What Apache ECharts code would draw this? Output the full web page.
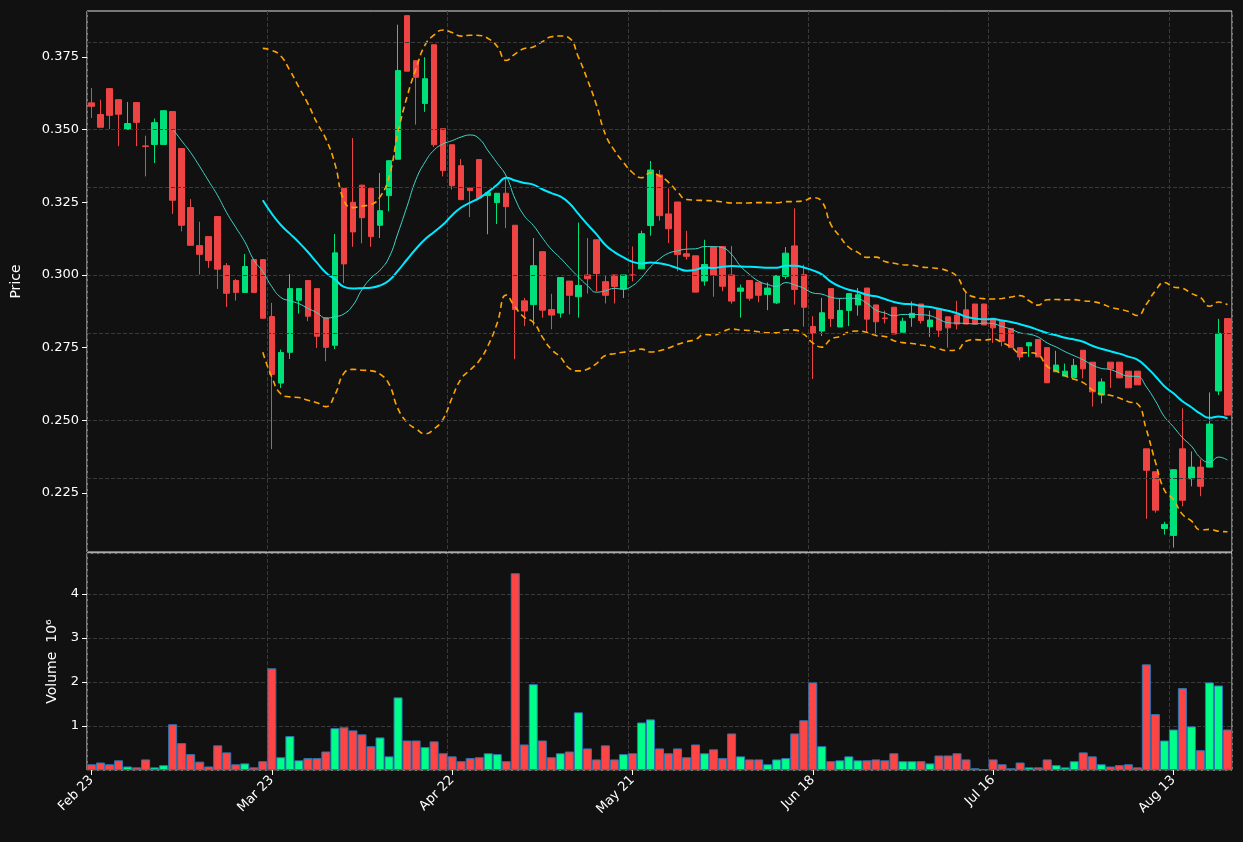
<!DOCTYPE html>
<html>
<head>
<meta charset="utf-8">
<script src="https://cdn.jsdelivr.net/npm/echarts@6/dist/echarts.min.js"></script>
<style>
  html, body { margin: 0; padding: 0; background: #111111; }
  #chart { width: 1243px; height: 842px; }
</style>
</head>
<body>
<div id="chart"></div>
<script>
// tick labels every 20 trading days
const tickLabels = ['Feb 23', 'Mar 23', 'Apr 22', 'May 21', 'Jun 18', 'Jul 16', 'Aug 13'];
const priceTicks = [0.225, 0.250, 0.275, 0.300, 0.325, 0.350, 0.375];

const opens = [.3592,.3552,.3641,.3603,.3501,.3593,.3444,.3449,.3449,.3562,.3435,.3232,.3101,.3132,.3201,.3032,.2981,.2940,.3053,.3053,
  .2857,.2628,.2734,.2913,.2981,.2953,.2852,.2758,.3298,.3250,.3309,.3298,.3171,.3273,.3398,.3892,.3737,.3590,.3792,.3503,
  .3448,.3376,.3299,.3397,.3273,.3249,.3281,.3171,.2911,.2898,.3080,.2881,.2869,.2979,.2925,.3000,.3121,.2977,.3000,.2952,
  .3000,.3021,.3170,.3344,.3210,.3251,.3073,.3066,.2979,.3096,.3098,.3000,.2944,.2981,.2975,.2933,.2904,.2995,.3100,.3001,
  .2823,.2807,.2953,.2821,.2878,.2897,.2955,.2897,.2852,.2889,.2803,.2853,.2900,.2822,.2882,.2856,.2862,.2880,.2900,.2900,
  .2851,.2841,.2816,.2750,.2756,.2778,.2750,.2667,.2652,.2646,.2741,.2700,.2587,.2700,.2700,.2669,.2669,.2402,.2323,.2128,
  .2104,.2402,.2299,.2339,.2339,.2601,.2850];
const closes = [.3580,.3508,.3549,.3553,.3521,.3525,.3442,.3524,.3565,.3257,.3171,.3102,.3071,.3050,.3020,.2937,.2940,.3029,.2940,.2851,
  .2658,.2733,.2953,.2953,.2858,.2789,.2751,.3076,.3038,.3148,.3197,.3132,.3221,.3393,.3703,.3701,.3680,.3675,.3448,.3359,
  .3307,.3259,.3290,.3264,.3283,.3281,.3235,.2881,.2876,.3032,.2879,.2862,.2991,.2930,.2964,.2987,.3005,.2930,.2960,.3000,
  .2999,.3142,.3361,.3204,.3159,.3070,.3064,.2941,.3036,.2999,.2961,.2910,.2955,.2920,.2930,.2955,.2998,.3075,.2950,.2889,
  .2799,.2870,.2850,.2878,.2936,.2932,.2848,.2839,.2850,.2797,.2841,.2868,.2843,.2845,.2810,.2818,.2831,.2831,.2831,.2828,
  .2818,.2772,.2750,.2718,.2767,.2718,.2629,.2690,.2669,.2689,.2677,.2598,.2632,.2677,.2646,.2612,.2622,.2328,.2191,.2142,
  .2330,.2225,.2339,.2273,.2487,.2799,.2518];
const lows = [.3540,.3508,.3502,.3443,.3501,.3443,.3339,.3385,.3449,.3210,.3150,.3102,.3001,.3024,.2952,.2890,.2912,.2940,.2940,.2851,
  .2401,.2611,.2711,.2867,.2841,.2749,.2703,.2745,.2972,.3097,.3109,.3097,.3127,.3219,.3398,.3701,.3517,.3561,.3440,.3339,
  .3294,.3259,.3199,.3264,.3140,.3175,.3161,.2710,.2824,.2826,.2853,.2813,.2853,.2864,.2853,.2936,.2944,.2902,.2902,.2921,
  .2978,.3021,.3135,.3187,.3110,.3013,.3053,.2941,.2963,.2925,.2944,.2901,.2853,.2911,.2906,.2879,.2900,.2986,.2898,.2822,
  .2642,.2790,.2821,.2821,.2824,.2860,.2804,.2793,.2833,.2797,.2803,.2822,.2833,.2787,.2787,.2750,.2813,.2831,.2831,.2828,
  .2766,.2755,.2750,.2706,.2718,.2718,.2629,.2667,.2652,.2646,.2644,.2547,.2558,.2612,.2646,.2612,.2622,.2161,.2182,.2107,
  .2062,.2204,.2273,.2239,.2339,.2587,.2518];
const highs = [.3643,.3603,.3641,.3603,.3595,.3593,.3479,.3538,.3565,.3562,.3435,.3261,.3183,.3132,.3201,.3041,.2986,.3072,.3053,.3053,
  .2904,.2743,.3003,.2953,.2981,.2953,.2852,.3141,.3298,.3471,.3309,.3298,.3351,.3393,.3861,.3892,.3737,.3749,.3792,.3503,
  .3448,.3399,.3299,.3397,.3283,.3281,.3338,.3171,.2921,.3127,.3080,.2935,.2991,.2979,.3180,.3127,.3121,.2999,.3000,.3000,
  .3098,.3152,.3392,.3361,.3298,.3251,.3152,.3066,.3121,.3096,.3098,.3100,.2967,.2981,.2975,.2974,.2998,.3096,.3229,.3035,
  .2858,.2921,.2953,.2918,.2936,.2955,.2955,.2897,.2877,.2889,.2853,.2909,.2900,.2877,.2882,.2856,.2911,.2938,.2900,.2900,
  .2851,.2841,.2816,.2750,.2767,.2778,.2750,.2739,.2695,.2712,.2741,.2700,.2644,.2700,.2700,.2669,.2669,.2402,.2323,.2151,
  .2330,.2541,.2393,.2366,.2596,.2849,.2850];
// volume in millions
const volumes = [.13,.17,.13,.22,.08,.06,.24,.06,.11,1.04,.61,.36,.19,.08,.56,.40,.13,.15,.06,.20,
  2.31,.29,.77,.22,.27,.27,.42,.95,.97,.90,.81,.54,.74,.31,1.65,.67,.67,.52,.65,.38,
  .31,.20,.27,.29,.38,.36,.20,4.47,.58,1.95,.67,.29,.38,.42,1.31,.49,.24,.56,.24,.36,
  .38,1.08,1.15,.49,.38,.49,.29,.58,.38,.47,.27,.83,.31,.24,.24,.13,.24,.27,.83,1.13,
  1.99,.54,.20,.22,.31,.22,.22,.24,.22,.38,.20,.20,.20,.15,.33,.33,.38,.24,.04,.02,
  .24,.13,.04,.17,.06,.06,.24,.11,.06,.20,.40,.31,.13,.08,.11,.13,.06,2.40,1.27,.67,
  .92,1.86,.99,.45,1.99,1.92,.92];

const categories = closes.map((c, i) => (i % 20 === 0 ? tickLabels[i / 20] : String(i)));

function movingAvg(n) {
  return closes.map((c, i) => {
    if (i < n - 1) return '-';
    let s = 0;
    for (let k = i - n + 1; k <= i; k++) s += closes[k];
    return +(s / n).toFixed(5);
  });
}
function band(n, mult) {
  const ma = movingAvg(n);
  return closes.map((c, i) => {
    if (i < n - 1) return '-';
    let v = 0;
    for (let k = i - n + 1; k <= i; k++) v += (closes[k] - ma[i]) ** 2;
    return +(ma[i] + mult * Math.sqrt(v / n)).toFixed(5);
  });
}

const candleData = closes.map((c, i) => [opens[i], c, lows[i], highs[i]]);
const volData = volumes.map((v, i) => ({
  value: v,
  itemStyle: { color: closes[i] >= opens[i] ? '#00ff88' : '#ff4444' }
}));

const tickIdx = (idx) => idx % 20 === 0;
const dashed = { color: '#3a3a3a', type: 'dashed', width: 1 };
const font = 'DejaVu Sans';

const chart = echarts.init(document.getElementById('chart'));
chart.setOption({
  backgroundColor: '#111111',
  animation: false,
  textStyle: { fontFamily: font },
  grid: [
    { left: 87, top: 11, width: 1145, height: 541, show: true, borderColor: '#e0e0e0', borderWidth: 1, backgroundColor: 'transparent' },
    { left: 87, top: 553, width: 1145, height: 217, show: true, borderColor: '#e0e0e0', borderWidth: 1, backgroundColor: 'transparent' }
  ],
  xAxis: [
    { type: 'category', gridIndex: 0, data: categories, boundaryGap: true,
      axisLine: { show: false }, axisTick: { show: false }, axisLabel: { show: false },
      splitLine: { show: true, interval: (i) => tickIdx(i), lineStyle: dashed } },
    { type: 'category', gridIndex: 1, data: categories, boundaryGap: true,
      axisLine: { show: false },
      axisTick: { show: true, interval: (i) => tickIdx(i), alignWithLabel: true, lineStyle: { color: '#fff' }, length: 5 },
      axisLabel: { interval: (i) => tickIdx(i), rotate: 45, color: '#fff', fontSize: 13, margin: 8, fontFamily: font },
      splitLine: { show: true, interval: (i) => tickIdx(i), lineStyle: dashed } }
  ],
  yAxis: [
    { type: 'value', gridIndex: 0, min: 0.2047, max: 0.3908, interval: 1,
      name: 'Price', nameLocation: 'middle', nameGap: 64, nameTextStyle: { color: '#fff', fontSize: 14, fontFamily: font },
      axisLine: { show: false },
      axisTick: { show: true, customValues: priceTicks, lineStyle: { color: '#fff' } },
      axisLabel: { color: '#fff', fontSize: 13, fontFamily: font, customValues: priceTicks,
        formatter: (v) => v.toFixed(3) },
      splitLine: { show: false } },
    { type: 'value', gridIndex: 1, min: 0, max: 4.93, interval: 1,
      name: 'Volume  10⁶', nameLocation: 'middle', nameGap: 28, nameTextStyle: { color: '#fff', fontSize: 14, fontFamily: font },
      axisLine: { show: false }, axisTick: { show: true, lineStyle: { color: '#fff' } },
      axisLabel: { color: '#fff', fontSize: 13, showMinLabel: false, showMaxLabel: false, fontFamily: font },
      splitLine: { show: true, lineStyle: dashed } }
  ],
  series: [
    { type: 'candlestick', xAxisIndex: 0, yAxisIndex: 0, data: candleData, barWidth: 6,
      itemStyle: { color: '#00e07a', color0: '#ee4444', borderColor: '#00e07a', borderColor0: '#ee4444', borderWidth: 1 } },
    { name: 'MA10', type: 'line', data: movingAvg(10), showSymbol: false, smooth: true,
      lineStyle: { color: '#3fd6c8', width: 1 },
      markLine: { silent: true, symbol: 'none', label: { show: false }, lineStyle: dashed,
        data: priceTicks.map((v) => ({ yAxis: v })) } },
    { name: 'MA20', type: 'line', data: movingAvg(20), showSymbol: false, smooth: true,
      lineStyle: { color: '#00eaff', width: 2 } },
    { name: 'Upper', type: 'line', data: band(20, 2), showSymbol: false, smooth: true,
      lineStyle: { color: '#ffa500', width: 1.6, type: [6, 4] } },
    { name: 'Lower', type: 'line', data: band(20, -2), showSymbol: false, smooth: true,
      lineStyle: { color: '#ffa500', width: 1.6, type: [6, 4] } },
    { type: 'bar', xAxisIndex: 1, yAxisIndex: 1, data: volData, barCategoryGap: '0%',
      itemStyle: { borderColor: '#2b78b8', borderWidth: 1 } }
  ]
});
</script>
</body>
</html>
